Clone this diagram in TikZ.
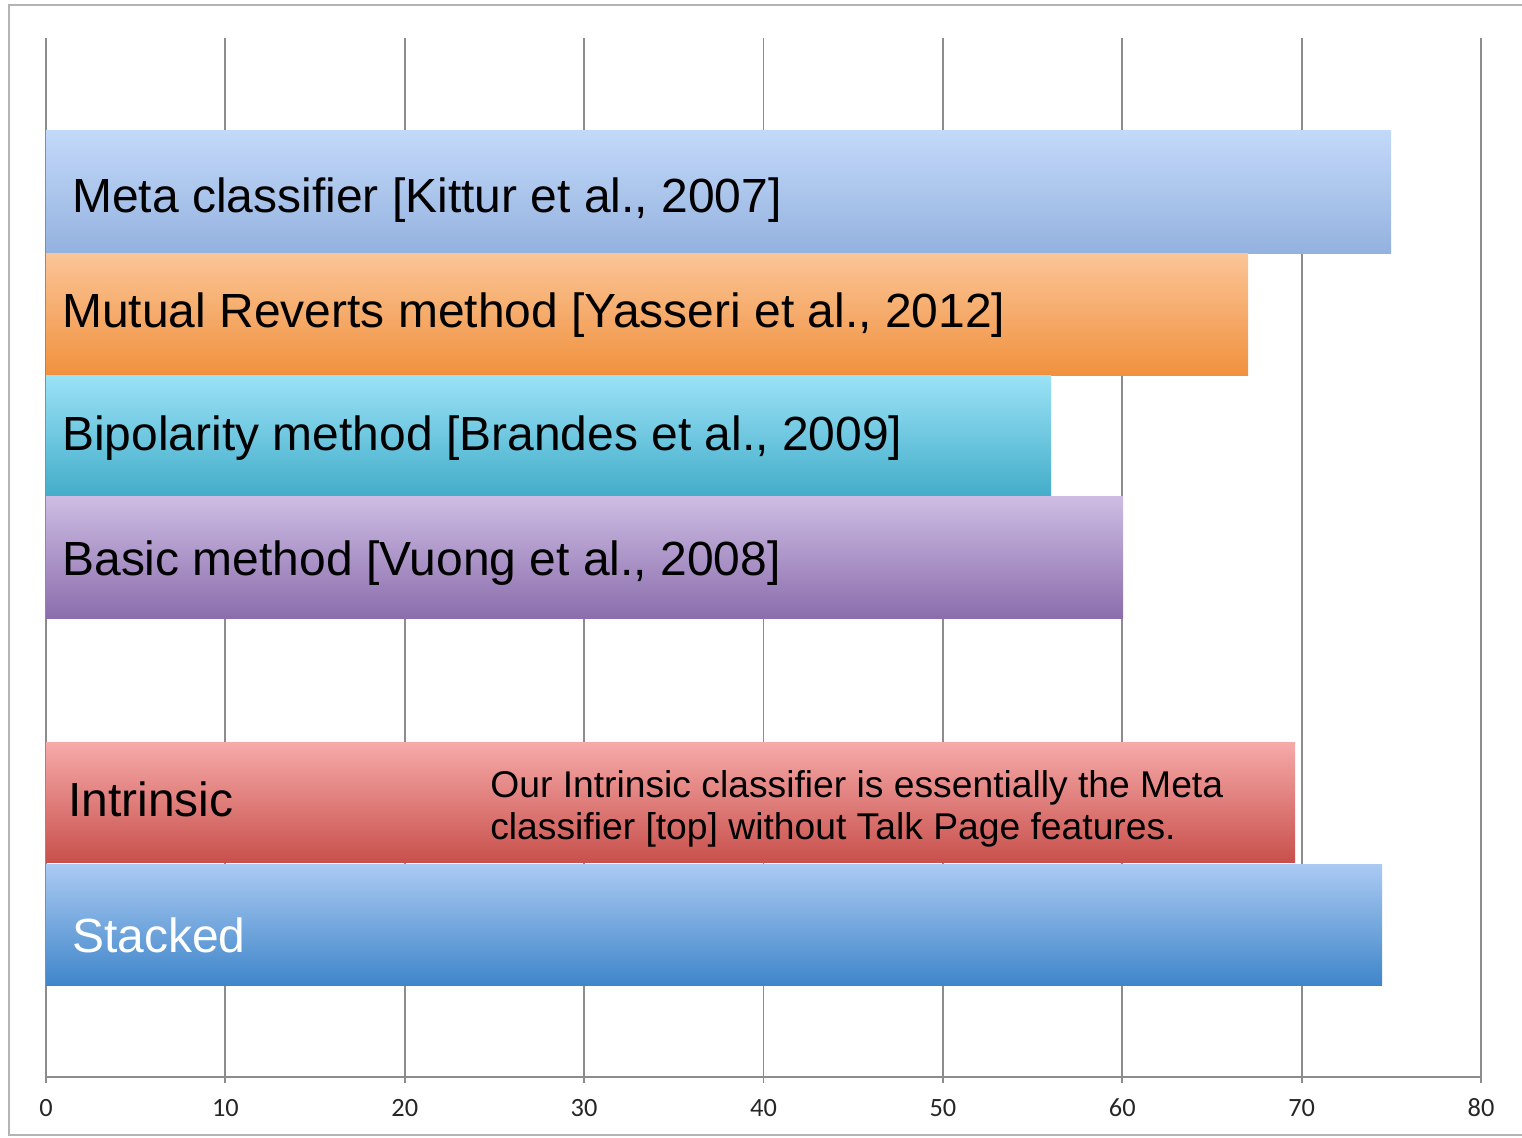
\documentclass[tikz,border=0pt]{standalone}
\usepackage{fontspec}
\setmainfont{Liberation Sans}
\newfontfamily\tickfont{Carlito}
\usepackage{tikz}
\usetikzlibrary{shapes,arrows,calc}
\definecolor{gridgray}{HTML}{8C8C8C}
\definecolor{framegray}{HTML}{B4B4B4}
\definecolor{metatop}{HTML}{C3D9F9}
\definecolor{metabot}{HTML}{94B2DF}
\definecolor{mutualtop}{HTML}{FBC597}
\definecolor{mutualbot}{HTML}{F0913E}
\definecolor{bipolartop}{HTML}{9BE2F6}
\definecolor{bipolarbot}{HTML}{43ADCA}
\definecolor{basictop}{HTML}{CDBDE4}
\definecolor{basicbot}{HTML}{8B6DAC}
\definecolor{intrinsictop}{HTML}{F6AAA9}
\definecolor{intrinsicbot}{HTML}{C8504C}
\definecolor{stackedtop}{HTML}{ABCAF3}
\definecolor{stackedbot}{HTML}{3F86C9}
\tikzstyle{frame} = [draw=framegray, line width=1.1pt]
\tikzstyle{grid} = [draw=gridgray, line width=1.1pt]
\tikzstyle{bar} = [draw=none, shading=axis, shading angle=0]
\tikzstyle{label} = [anchor=base west, inner sep=0pt, font=\fontsize{27.3}{30}\selectfont]
\tikzstyle{note} = [anchor=base west, inner sep=0pt, font=\fontsize{21.2}{24}\selectfont]
\tikzstyle{tick} = [inner sep=0pt, text=black!85, font=\tickfont\fontsize{15}{17}\selectfont]

\begin{document}
\begin{tikzpicture}[x=0.02cm, y=-0.02cm]
        \useasboundingbox (0,0) rectangle (1522,1137);
        \draw[frame] (1522,5) -- (9,5) -- (9,1135) -- (1522,1135);
        % grid and axis
        \draw[grid] (46,38) -- (46,1083);
        \draw[grid] (225.4,38) -- (225.4,1083);
        \draw[grid] (404.8,38) -- (404.8,1083);
        \draw[grid] (584.1,38) -- (584.1,1083);
        \draw[grid] (763.5,38) -- (763.5,1083);
        \draw[grid] (942.9,38) -- (942.9,1083);
        \draw[grid] (1122.3,38) -- (1122.3,1083);
        \draw[grid] (1301.6,38) -- (1301.6,1083);
        \draw[grid] (1481,38) -- (1481,1083);
        \draw[grid] (46,1077) -- (1481,1077);
        \node[tick] (t0) at (46,1108) {0};
        \node[tick] (t10) at (225.4,1108) {10};
        \node[tick] (t20) at (404.8,1108) {20};
        \node[tick] (t30) at (584.1,1108) {30};
        \node[tick] (t40) at (763.5,1108) {40};
        \node[tick] (t50) at (942.9,1108) {50};
        \node[tick] (t60) at (1122.3,1108) {60};
        \node[tick] (t70) at (1301.6,1108) {70};
        \node[tick] (t80) at (1481,1108) {80};
        % bars
        \path[bar, top color=metatop, bottom color=metabot] (46,130) rectangle (1391,253);
        \path[bar, top color=mutualtop, bottom color=mutualbot] (46,253) rectangle (1248,375);
        \path[bar, top color=bipolartop, bottom color=bipolarbot] (46,375) rectangle (1051,496);
        \path[bar, top color=basictop, bottom color=basicbot] (46,496) rectangle (1123,618);
        \path[bar, top color=intrinsictop, bottom color=intrinsicbot] (46,742) rectangle (1295,862);
        \path[bar, top color=stackedtop, bottom color=stackedbot] (46,864) rectangle (1382,985);
        % bar labels
        \node[label] (meta) at (72,212) {Meta classifier [Kittur et al., 2007]};
        \node[label] (mutual) at (62,327) {Mutual Reverts method [Yasseri et al., 2012]};
        \node[label] (bipolar) at (62,450) {Bipolarity method [Brandes et al., 2009]};
        \node[label] (basic) at (62,575) {Basic method [Vuong et al., 2008]};
        \node[label] (intrinsic) at (68,816) {Intrinsic};
        \node[label, text=white] (stacked) at (72,952) {Stacked};
        \node[note] (note1) at (490,797) {Our Intrinsic classifier is essentially the Meta};
        \node[note] (note2) at (490,839) {classifier [top] without Talk Page features.};
    \end{tikzpicture}
\end{document}
